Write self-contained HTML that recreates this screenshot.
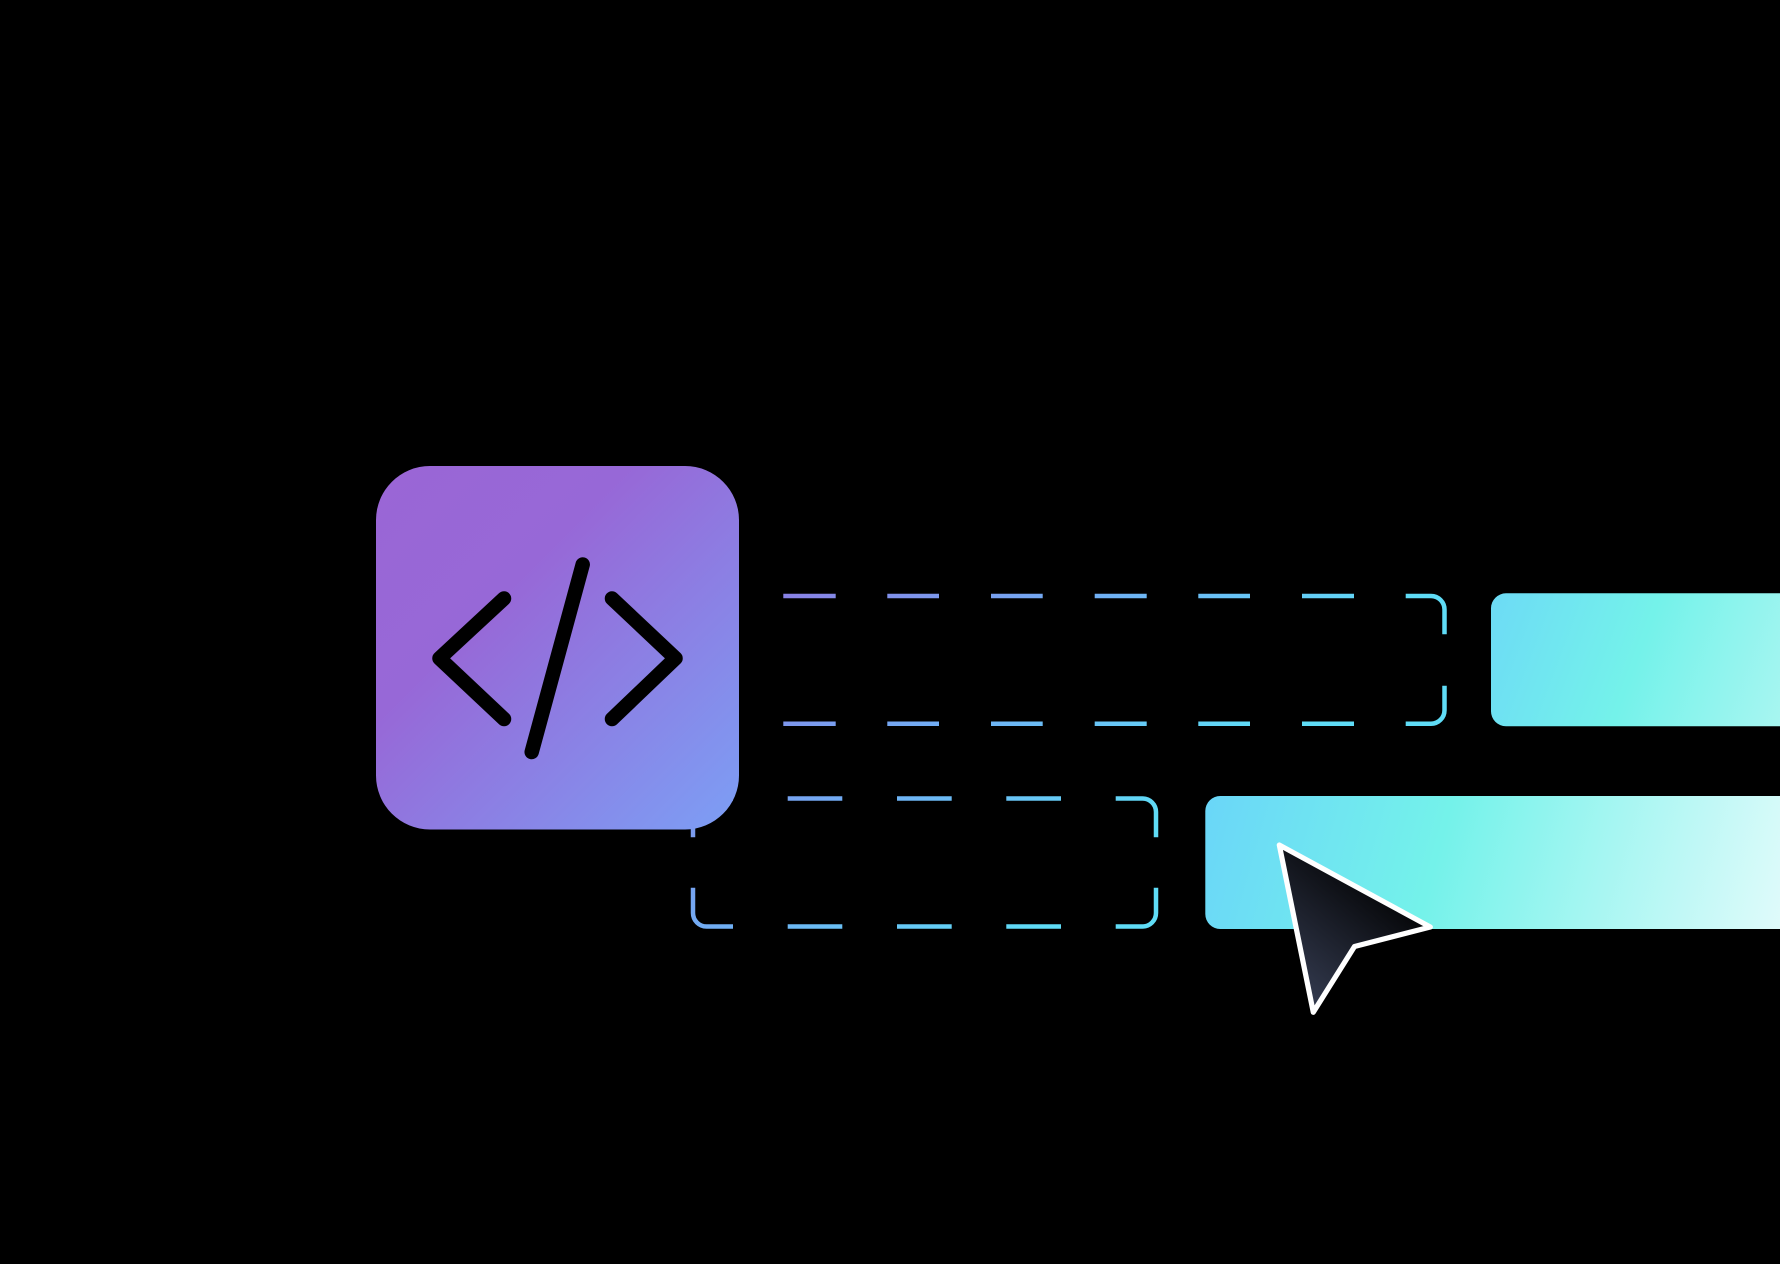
<!DOCTYPE html>
<html>
<head>
<meta charset="utf-8">
<style>
  html,body{margin:0;padding:0;background:#000;}
  body{width:1780px;height:1264px;overflow:hidden;}
  svg{display:block;}
</style>
</head>
<body>
<svg width="1780" height="1264" viewBox="0 0 1780 1264" xmlns="http://www.w3.org/2000/svg">
  <defs>
    <linearGradient id="boxg" gradientUnits="userSpaceOnUse" x1="376" y1="466" x2="739" y2="830">
      <stop offset="0" stop-color="#9a66d6"/>
      <stop offset="0.35" stop-color="#9768d7"/>
      <stop offset="1" stop-color="#7c9ff5"/>
    </linearGradient>
    <linearGradient id="dashg" gradientUnits="userSpaceOnUse" x1="790" y1="596" x2="1065" y2="902">
      <stop offset="0" stop-color="#8882e6"/>
      <stop offset="0.5" stop-color="#70b0f5"/>
      <stop offset="1" stop-color="#5fdcf6"/>
    </linearGradient>
    <linearGradient id="bar1" gradientUnits="userSpaceOnUse" x1="1480" y1="590" x2="1880" y2="740">
      <stop offset="0" stop-color="#6cd9f6"/>
      <stop offset="0.4" stop-color="#74f2ea"/>
      <stop offset="1" stop-color="#c8f8f5"/>
    </linearGradient>
    <linearGradient id="bar2" gradientUnits="userSpaceOnUse" x1="1205" y1="796" x2="1780" y2="960">
      <stop offset="0" stop-color="#6ad6f8"/>
      <stop offset="0.4" stop-color="#74f2ea"/>
      <stop offset="1" stop-color="#e2fbfb"/>
    </linearGradient>
    <linearGradient id="curg" gradientUnits="userSpaceOnUse" x1="1300" y1="1000" x2="1400" y2="880">
      <stop offset="0" stop-color="#343b50"/>
      <stop offset="1" stop-color="#000000"/>
    </linearGradient>
  </defs>

  <!-- Top dashed group -->
  <g stroke="url(#dashg)" stroke-width="4.5" fill="none" stroke-linecap="butt">
    <line x1="783.3" y1="596" x2="835.7" y2="596"/>
    <line x1="887.3" y1="596" x2="939" y2="596"/>
    <line x1="991" y1="596" x2="1042.7" y2="596"/>
    <line x1="1094.7" y1="596" x2="1146.7" y2="596"/>
    <line x1="1198.3" y1="596" x2="1250" y2="596"/>
    <line x1="1302" y1="596" x2="1354" y2="596"/>
    <path d="M1405.7,596 H1431 A13.5,13.5 0 0 1 1444.5,609.5 V634.3"/>

    <line x1="783.3" y1="723.7" x2="835.7" y2="723.7"/>
    <line x1="887.3" y1="723.7" x2="939" y2="723.7"/>
    <line x1="991" y1="723.7" x2="1042.7" y2="723.7"/>
    <line x1="1094.7" y1="723.7" x2="1146.7" y2="723.7"/>
    <line x1="1198.3" y1="723.7" x2="1250" y2="723.7"/>
    <line x1="1302" y1="723.7" x2="1354" y2="723.7"/>
    <path d="M1444.5,685.7 V710.2 A13.5,13.5 0 0 1 1431,723.7 H1405.7"/>
  </g>

  <!-- Bottom dashed group -->
  <g stroke="url(#dashg)" stroke-width="4.5" fill="none" stroke-linecap="butt">
    <path d="M733,798.5 H706.5 A13.5,13.5 0 0 0 693,812 V837.3"/>
    <line x1="787.7" y1="798.5" x2="842.3" y2="798.5"/>
    <line x1="897" y1="798.5" x2="951.7" y2="798.5"/>
    <line x1="1006.3" y1="798.5" x2="1061" y2="798.5"/>
    <path d="M1115.7,798.5 H1142.5 A13.5,13.5 0 0 1 1156,812 V837.3"/>

    <path d="M693,887.7 V913 A13.5,13.5 0 0 0 706.5,926.5 H733"/>
    <line x1="787.7" y1="926.5" x2="842.3" y2="926.5"/>
    <line x1="897" y1="926.5" x2="951.7" y2="926.5"/>
    <line x1="1006.3" y1="926.5" x2="1061" y2="926.5"/>
    <path d="M1156,887.7 V913 A13.5,13.5 0 0 1 1142.5,926.5 H1115.7"/>
  </g>

  <!-- Code icon box -->
  <rect x="376" y="466" width="363" height="363.5" rx="54" ry="54" fill="url(#boxg)"/>
  <g stroke="#000" stroke-width="14.5" fill="none" stroke-linecap="round" stroke-linejoin="round">
    <polyline points="504,598.5 439.5,658.3 504,719"/>
    <polyline points="612,598.5 675.5,658.3 612,719"/>
    <line x1="582.7" y1="564.5" x2="531.7" y2="752"/>
  </g>

  <!-- Bars -->
  <rect x="1491" y="593.3" width="340" height="133" rx="15" ry="15" fill="url(#bar1)"/>
  <rect x="1205.3" y="796" width="640" height="133" rx="15" ry="15" fill="url(#bar2)"/>

  <!-- Cursor -->
  <polygon points="1279.3,845 1430.3,927 1354.5,946.5 1313.3,1012.3" fill="url(#curg)" stroke="#ffffff" stroke-width="5.2" stroke-linejoin="round"/>
</svg>
</body>
</html>
